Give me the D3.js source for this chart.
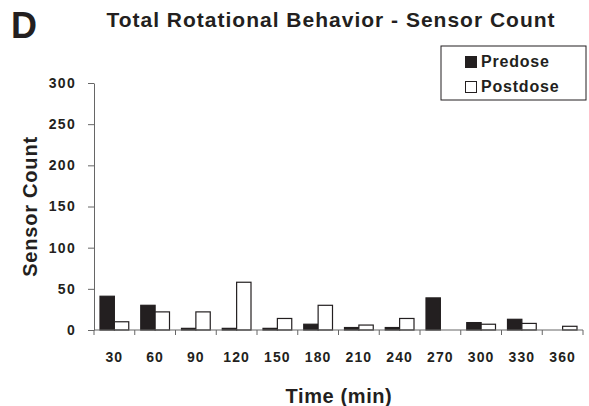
<!DOCTYPE html>
<html>
<head>
<meta charset="utf-8">
<script src="https://cdn.jsdelivr.net/npm/d3@7"></script>
<style>
  body { margin: 0; background: #fff; }
  text { font-family: "Liberation Sans", Arial, sans-serif; font-weight: bold; fill: #231f20; }
</style>
</head>
<body>
<div id="chart"></div>
<script>
const times = ["30", "60", "90", "120", "150", "180", "210", "240", "270", "300", "330", "360"];
const predose = [41, 30, 2, 2, 2, 7, 3, 3, 39, 9, 13, 0];
const postdose = [10, 22, 22, 58, 14, 30, 6, 14, 0, 7, 8, 4.5];
const yTicks = [0, 50, 100, 150, 200, 250, 300];
const seriesNames = ["Predose", "Postdose"];

var w = 589, h = 406;
var mLeft = 94, mRight = 583, mTop = 83, mBottom = 330;

const svg = d3.select("#chart")
  .append("svg")
  .attr("width", w)
  .attr("height", h);

const x = d3.scaleBand()
  .domain(times)
  .range([mLeft, mRight])
  .paddingInner(0)
  .paddingOuter(0);

const inner = d3.scaleBand()
  .domain(seriesNames)
  .range([6, x.bandwidth() - 6]);

const y = d3.scaleLinear()
  .domain([0, 300])
  .range([mBottom, mTop]);

// y axis
const yAxis = svg.append("g")
  .attr("transform", `translate(${mLeft},0)`)
  .call(d3.axisLeft(y).tickValues(yTicks).tickSize(6).tickSizeOuter(0).tickPadding(12));
yAxis.selectAll("text")
  .style("font-size", "14px")
  .style("letter-spacing", "1.3px")
  .style("fill", "#231f20");

// x axis labels
const xAxis = svg.append("g")
  .attr("transform", `translate(0,${mBottom})`)
  .call(d3.axisBottom(x).tickSize(0).tickPadding(22));
xAxis.selectAll("text")
  .style("font-size", "14px")
  .style("letter-spacing", "1.1px")
  .style("fill", "#231f20");
xAxis.select(".domain").remove();

svg.selectAll("path.domain, .tick line").attr("stroke", "#666");

// x tick marks at band edges
const edges = times.map(t => x(t)).concat([mRight]);
svg.append("g").selectAll("line")
  .data(edges)
  .enter()
  .append("line")
  .attr("x1", d => d).attr("x2", d => d)
  .attr("y1", mBottom).attr("y2", mBottom + 5)
  .attr("stroke", "#666");

// bars
const rows = times.map((t, i) => ({ t: t, Predose: predose[i], Postdose: postdose[i] }));
const groups = svg.append("g").selectAll("g")
  .data(rows)
  .enter()
  .append("g")
  .attr("transform", d => `translate(${x(d.t)},0)`);

groups.selectAll("rect")
  .data(d => seriesNames.map(k => ({ k: k, v: d[k] })).filter(e => e.v > 0))
  .enter()
  .append("rect")
  .attr("x", d => inner(d.k))
  .attr("y", d => y(d.v))
  .attr("width", inner.bandwidth())
  .attr("height", d => mBottom - y(d.v))
  .attr("fill", d => d.k === "Predose" ? "#231f20" : "#fff")
  .attr("stroke", "#231f20")
  .attr("stroke-width", 1.2);

// x axis line drawn on top
svg.append("line")
  .attr("x1", mLeft).attr("x2", mRight)
  .attr("y1", mBottom).attr("y2", mBottom)
  .attr("stroke", "#666");

// titles
svg.append("text")
  .attr("x", 11).attr("y", 38)
  .style("font-size", "36px")
  .text("D");

svg.append("text")
  .attr("x", 331).attr("y", 27)
  .attr("text-anchor", "middle")
  .style("font-size", "21px")
  .style("letter-spacing", "1px")
  .text("Total Rotational Behavior - Sensor Count");

svg.append("text")
  .attr("transform", `translate(37,${(mTop + mBottom) / 2}) rotate(-90)`)
  .attr("text-anchor", "middle")
  .style("font-size", "20px")
  .style("letter-spacing", "0.8px")
  .text("Sensor Count");

svg.append("text")
  .attr("x", 339).attr("y", 403)
  .attr("text-anchor", "middle")
  .style("font-size", "20px")
  .style("letter-spacing", "0.6px")
  .text("Time (min)");

// legend
const legend = svg.append("g");
legend.append("rect")
  .attr("x", 441).attr("y", 46)
  .attr("width", 145).attr("height", 54)
  .attr("fill", "#fff")
  .attr("stroke", "#231f20");

seriesNames.forEach((name, i) => {
  const ly = 56 + i * 25;
  legend.append("rect")
    .attr("x", 465.5).attr("y", ly + 0.5)
    .attr("width", 11).attr("height", 11)
    .attr("fill", name === "Predose" ? "#231f20" : "#fff")
    .attr("stroke", "#231f20");
  legend.append("text")
    .attr("x", 481).attr("y", ly + 11)
    .style("font-size", "16px")
    .style("letter-spacing", "0.8px")
    .text(name);
});
</script>
</body>
</html>
